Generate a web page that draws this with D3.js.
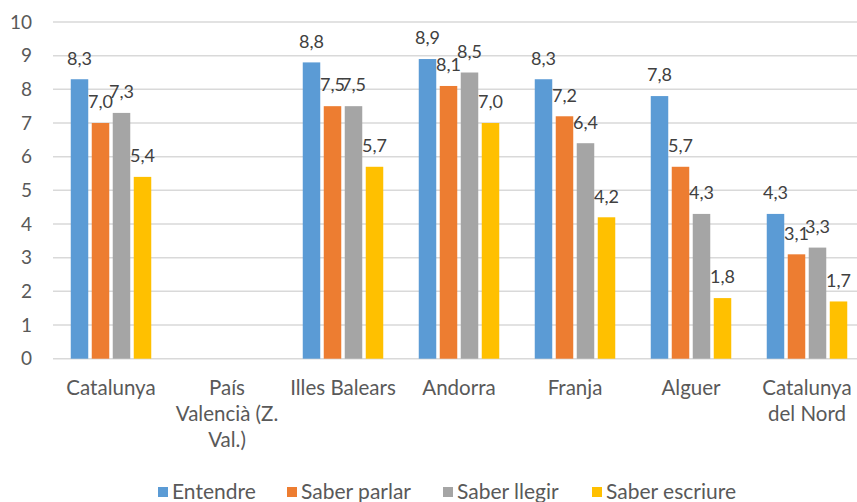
<!DOCTYPE html>
<html>
<head>
<meta charset="utf-8">
<script src="https://cdn.jsdelivr.net/npm/d3@7/dist/d3.min.js"></script>
<style>
  html, body { margin: 0; padding: 0; background: #ffffff; }
  svg { display: block; font-family: Lato, "Open Sans", sans-serif; }
</style>
</head>
<body>
<svg id="chart" width="857" height="502"></svg>
<script>
// Territories along the horizontal axis (label lines pre-wrapped)
const categories = [
  ["Catalunya"],
  ["País", "Valencià (Z.", "Val.)"],
  ["Illes Balears"],
  ["Andorra"],
  ["Franja"],
  ["Alguer"],
  ["Catalunya", "del Nord"]
];
const seriesNames = ["Entendre", "Saber parlar", "Saber llegir", "Saber escriure"];
const seriesColors = ["#5B9BD5", "#ED7D31", "#A5A5A5", "#FFC000"];

// Scores per territory (null = no data)
const entendre      = [8.3, null, 8.8, 8.9, 8.3, 7.8, 4.3];
const saberParlar   = [7.0, null, 7.5, 8.1, 7.2, 5.7, 3.1];
const saberLlegir   = [7.3, null, 7.5, 8.5, 6.4, 4.3, 3.3];
const saberEscriure = [5.4, null, 5.7, 7.0, 4.2, 1.8, 1.7];
const yTicks = [0, 1, 2, 3, 4, 5, 6, 7, 8, 9, 10];

const seriesValues = [entendre, saberParlar, saberLlegir, saberEscriure];

const svg = d3.select("#chart");
const plotLeft = 53, bandStep = 116, plotTop = 22, plotBottom = 358.7;

const x = d3.scaleBand()
  .domain(d3.range(categories.length))
  .range([plotLeft, plotLeft + bandStep * categories.length])
  .paddingInner(0).paddingOuter(0);

const y = d3.scaleLinear().domain([0, 10]).range([plotBottom, plotTop]);

const barW = 17.5, barStep = 21;
const xs = d3.scaleLinear().domain([0, 3])
  .range([-1.5 * barStep, 1.5 * barStep]);

// Horizontal gridlines
svg.append("g")
  .selectAll("line")
  .data(yTicks)
  .join("line")
  .attr("x1", plotLeft).attr("x2", 857)
  .attr("y1", d => y(d)).attr("y2", d => y(d))
  .attr("stroke", "#D9D9D9")
  .attr("stroke-width", 1.5);

// Y axis tick labels
const yAxis = d3.axisLeft(y).tickValues(yTicks).tickSize(0).tickPadding(0);
const yg = svg.append("g").attr("transform", "translate(32,0)").call(yAxis);
yg.select(".domain").remove();
yg.selectAll("text")
  .attr("font-family", "Lato, sans-serif")
  .attr("font-size", 19)
  .attr("fill", "#595959");

// Bars
const flat = [];
seriesValues.forEach((vals, s) => {
  vals.forEach((v, i) => { if (v !== null) flat.push({ s, i, v }); });
});

const cx = d => x(d.i) + x.bandwidth() / 2 + xs(d.s);

svg.append("g")
  .selectAll("rect")
  .data(flat)
  .join("rect")
  .attr("x", d => cx(d) - barW / 2)
  .attr("y", d => y(d.v))
  .attr("width", barW)
  .attr("height", d => y(0) - y(d.v))
  .attr("fill", d => seriesColors[d.s]);

// Value labels above bars
svg.append("g")
  .selectAll("text")
  .data(flat)
  .join("text")
  .attr("x", d => cx(d))
  .attr("y", d => y(d.v) - 21)
  .attr("dy", "0.35em")
  .attr("text-anchor", "middle")
  .attr("font-size", 18)
  .attr("fill", "#404040")
  .text(d => d.v.toFixed(1).replace(".", ","));

// Category labels
const cg = svg.append("g");
categories.forEach((lines, i) => {
  const t = cg.append("text")
    .attr("x", x(i) + x.bandwidth() / 2)
    .attr("y", 388)
    .attr("text-anchor", "middle")
    .attr("font-size", 20.5)
    .attr("fill", "#595959");
  lines.forEach((ln, k) => {
    t.append("tspan")
      .attr("x", x(i) + x.bandwidth() / 2)
      .attr("y", 388 + k * 26)
      .attr("dy", "0.35em")
      .text(ln);
  });
});

// Legend
const legendX = [158, 287, 443, 592];
const lg = svg.append("g");
seriesNames.forEach((name, s) => {
  lg.append("rect")
    .attr("x", legendX[s]).attr("y", 487)
    .attr("width", 10).attr("height", 10)
    .attr("fill", seriesColors[s]);
  lg.append("text")
    .attr("x", legendX[s] + 14).attr("y", 492)
    .attr("dy", "0.35em")
    .attr("font-size", 21)
    .attr("fill", "#595959")
    .text(name);
});
</script>
</body>
</html>
